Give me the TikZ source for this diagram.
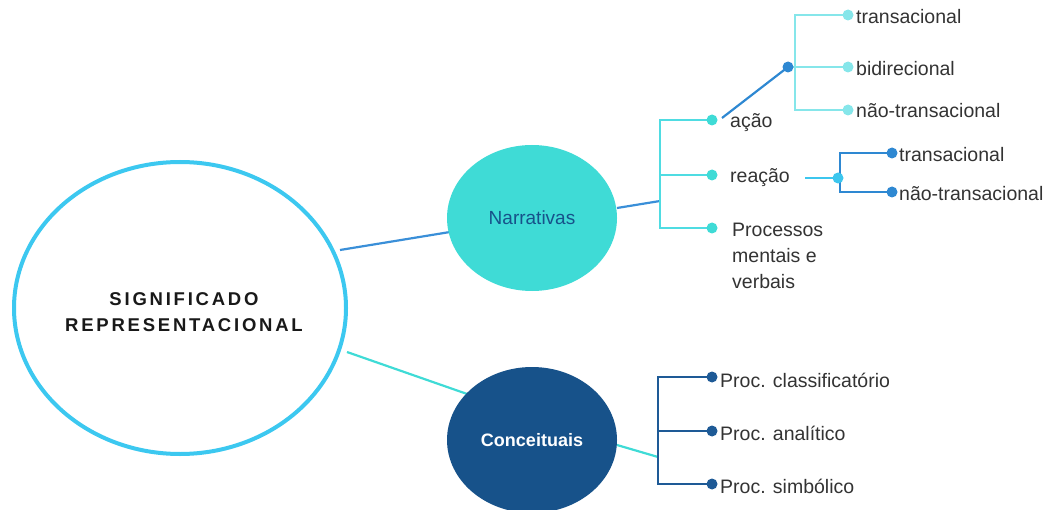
\documentclass[tikz,border=0pt]{standalone}
\usepackage{fontspec}
\setmainfont{Liberation Sans}
\newfontfamily\titlefont[LetterSpace=15]{Liberation Sans}
\usetikzlibrary{shapes.geometric}
\definecolor{ringblue}{HTML}{3CC8F0}
\definecolor{turq}{HTML}{3FDBD6}
\definecolor{navy}{HTML}{17528A}
\definecolor{linkblue}{HTML}{3A8FD8}
\definecolor{lightturq}{HTML}{4FDCE2}
\definecolor{paleturq}{HTML}{86E6EA}
\definecolor{midblue}{HTML}{2E88D2}
\definecolor{cyanline}{HTML}{3CC6EE}
\definecolor{darkbr}{HTML}{1E5A96}
\definecolor{txt}{HTML}{333333}
\begin{document}
\begin{tikzpicture}[x=1pt,y=-1pt,
  lbl/.style={anchor=west,font=\fontsize{19.5}{24}\selectfont,text=txt,inner sep=0pt},
  dotnode/.style={circle,fill=#1,minimum size=11pt,inner sep=0pt},
  conn/.style={line width=2.2pt,#1},
  bubble/.style={ellipse,minimum width=170pt,minimum height=146pt,inner sep=0pt}]
\useasboundingbox (0,0) rectangle (1056,510);
% main circle
\node[ellipse,draw=ringblue,line width=4pt,fill=white,minimum width=332pt,minimum height=292pt] (main) at (180,308) {};
\node[text=black!90,align=center,font=\titlefont\bfseries\fontsize{18.5}{26}\selectfont] (title) at (184,312) {SIGNIFICADO\\REPRESENTACIONAL};
% coordinates
\coordinate (m1) at (340,250);
\coordinate (m2) at (347,352);
\coordinate (ne) at (617,208);
\coordinate (nb) at (660,201);
\coordinate (pA) at (712,120);
\coordinate (pR) at (712,175);
\coordinate (pP) at (712,228);
\coordinate (acs) at (722,118);
\coordinate (pAc) at (788,67);
\coordinate (pt1) at (848,15);
\coordinate (pt2) at (848,67);
\coordinate (pt3) at (848,110);
\coordinate (rs) at (805,178);
\coordinate (pRc) at (838,178);
\coordinate (pr1) at (892,153);
\coordinate (pr2) at (892,192);
\coordinate (cs) at (617,445);
\coordinate (cb) at (658,457);
\coordinate (pc1) at (712,377);
\coordinate (pc2) at (712,431);
\coordinate (pc3) at (712,484);
% links
\draw[conn=linkblue] (m1) -- (450,232);
\draw[conn=turq] (m2) -- (470,395);
\draw[conn=linkblue] (ne) -- (nb);
\draw[conn=lightturq] (pA) -| (660,228) -- (pP);
\draw[conn=lightturq] (660,175) -- (pR);
\draw[conn=midblue] (acs) -- (pAc);
\draw[conn=paleturq] (pt1) -| (795,110) -- (pt3);
\draw[conn=paleturq] (pAc) -- (pt2);
\draw[conn=cyanline] (rs) -- (pRc);
\draw[conn=midblue] (pr1) -| (840,192) -- (pr2);
\draw[conn=turq] (cs) -- (cb);
\draw[conn=darkbr] (pc1) -| (658,484) -- (pc3);
\draw[conn=darkbr] (658,431) -- (pc2);
% bubbles
\node[bubble,fill=turq,text=navy,font=\fontsize{19}{22}\selectfont] (narr) at (532,218) {Narrativas};
\node[bubble,fill=navy,text=white,font=\bfseries\fontsize{18}{22}\selectfont] (conc) at (532,440) {Conceituais};
% dots
\node[dotnode=turq] (dA) at (pA) {};
\node[dotnode=turq] (dR) at (pR) {};
\node[dotnode=turq] (dP) at (pP) {};
\node[dotnode=midblue] (dAc) at (pAc) {};
\node[dotnode=paleturq] (t1) at (pt1) {};
\node[dotnode=paleturq] (t2) at (pt2) {};
\node[dotnode=paleturq] (t3) at (pt3) {};
\node[dotnode=cyanline] (dRc) at (pRc) {};
\node[dotnode=midblue] (r1) at (pr1) {};
\node[dotnode=midblue] (r2) at (pr2) {};
\node[dotnode=darkbr] (c1) at (pc1) {};
\node[dotnode=darkbr] (c2) at (pc2) {};
\node[dotnode=darkbr] (c3) at (pc3) {};
% labels
\node[lbl] (acao) at (730,123) {ação};
\node[lbl] (reacao) at (730,178) {reação};
\node[lbl] (proc1) at (732,230) {Processos};
\node[lbl] (proc2) at (732,256) {mentais e};
\node[lbl] (proc3) at (732,282) {verbais};
\node[lbl] (l1) at (856,17) {transacional};
\node[lbl] (l2) at (856,69) {bidirecional};
\node[lbl] (l3) at (856,111) {não-transacional};
\node[lbl] (rl1) at (899,155) {transacional};
\node[lbl] (rl2) at (899,194) {não-transacional};
\node[lbl] (cl1) at (720,380) {Proc. classificatório};
\node[lbl] (cl2) at (720,433) {Proc. analítico};
\node[lbl] (cl3) at (720,486) {Proc. simbólico};
\end{tikzpicture}
\end{document}
